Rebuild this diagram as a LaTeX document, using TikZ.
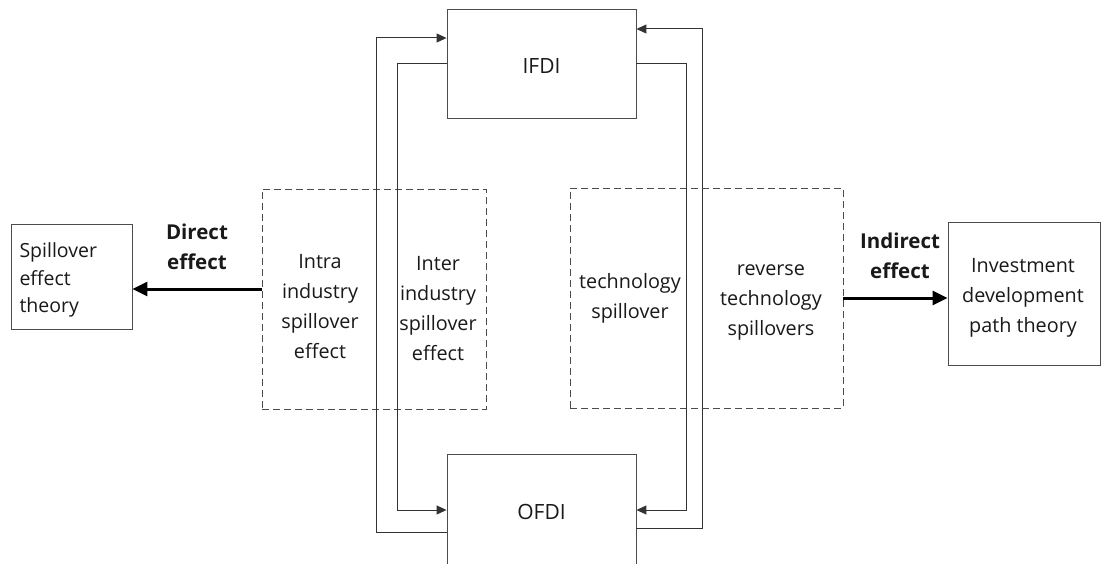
\documentclass[tikz,border=0pt]{standalone}
\usepackage{fontspec}
\setmainfont{Open Sans}
\usetikzlibrary{arrows.meta,calc}
\begin{document}
\begin{tikzpicture}[x=1pt,y=-1pt,
  txt/.style={font=\fontsize{19.8}{30}\selectfont, text=black!90, align=center},
  solidbox/.style={draw=black!70, line width=0.9pt, inner sep=0pt},
  dashbox/.style={draw=black!70, line width=0.9pt, dash pattern=on 7pt off 4pt, inner sep=0pt},
  conn/.style={draw=black!80, line width=1pt},
  tip/.style={-{Triangle[length=10pt,width=9pt]}},
  bigarrow/.style={draw=black, line width=3pt, -{Triangle[length=15pt,width=14pt]}},
  lbl/.style={font=\fontsize{20.5}{30}\selectfont\bfseries, text=black!90, align=center}]
\useasboundingbox (0,0) rectangle (1102,564);
\fill[white] (0,0) rectangle (1102,564);

% main boxes
\node[solidbox, minimum width=189pt, minimum height=109pt] (ifdi) at (541.5,63.5) {};
\node[txt, font=\fontsize{21}{26}\selectfont] (ifdit) at (541.5,66) {IFDI};
\node[solidbox, minimum width=189pt, minimum height=116pt] (ofdi) at (541.5,512) {};
\node[txt, font=\fontsize{21}{26}\selectfont] (ofdit) at (541.5,512) {OFDI};

% dashed boxes
\node[dashbox, minimum width=224pt, minimum height=220pt] (left) at (374,299) {};
\node[dashbox, minimum width=273pt, minimum height=220pt] (right) at (706.5,298) {};

% side boxes
\node[solidbox, minimum width=121pt, minimum height=105pt] (spill) at (71.5,276.5) {};
\node[txt, align=left, anchor=west, font=\fontsize{19.5}{27.5}\selectfont] (spillt) at (16,280) {Spillover\\effect\\theory};
\node[solidbox, minimum width=152pt, minimum height=143pt] (inv) at (1024,293.5) {};
\node[txt] (invt) at (1023,298) {Investment\\development\\path theory};

% texts in dashed boxes
\node[txt] (intra) at (320,307) {Intra\\industry\\spillover\\effect};
\node[txt] (inter) at (438,309) {Inter\\industry\\spillover\\effect};
\node[txt] (tech) at (630,298) {technology\\spillover};
\node[txt] (rev) at (771,302) {reverse\\technology\\spillovers};

% connectors between IFDI and OFDI
\coordinate (lo) at (376,38);
\coordinate (li) at (397,64);
\coordinate (ro) at (702,29);
\coordinate (ri) at (686,64);
\draw[conn, tip] (ofdi.west |- 0,532) -| (lo) -- (ifdi.west |- lo);
\draw[conn, tip] (ifdi.west |- li) -- (li) |- (ofdi.west |- 0,510);
\draw[conn, tip] (ofdi.east |- 0,528) -| (ro) -- (ifdi.east |- ro);
\draw[conn, tip] (ifdi.east |- ri) -- (ri) |- (ofdi.east |- 0,510);

% effect arrows
\draw[bigarrow] (left.west |- 0,289) -- (spill.east |- 0,289);
\draw[bigarrow] (right.east |- 0,298) -- (inv.west |- 0,298);
\node[lbl] (direct) at (197,247) {Direct\\effect};
\node[lbl] (indirect) at (900,256) {Indirect\\effect};
\end{tikzpicture}
\end{document}
